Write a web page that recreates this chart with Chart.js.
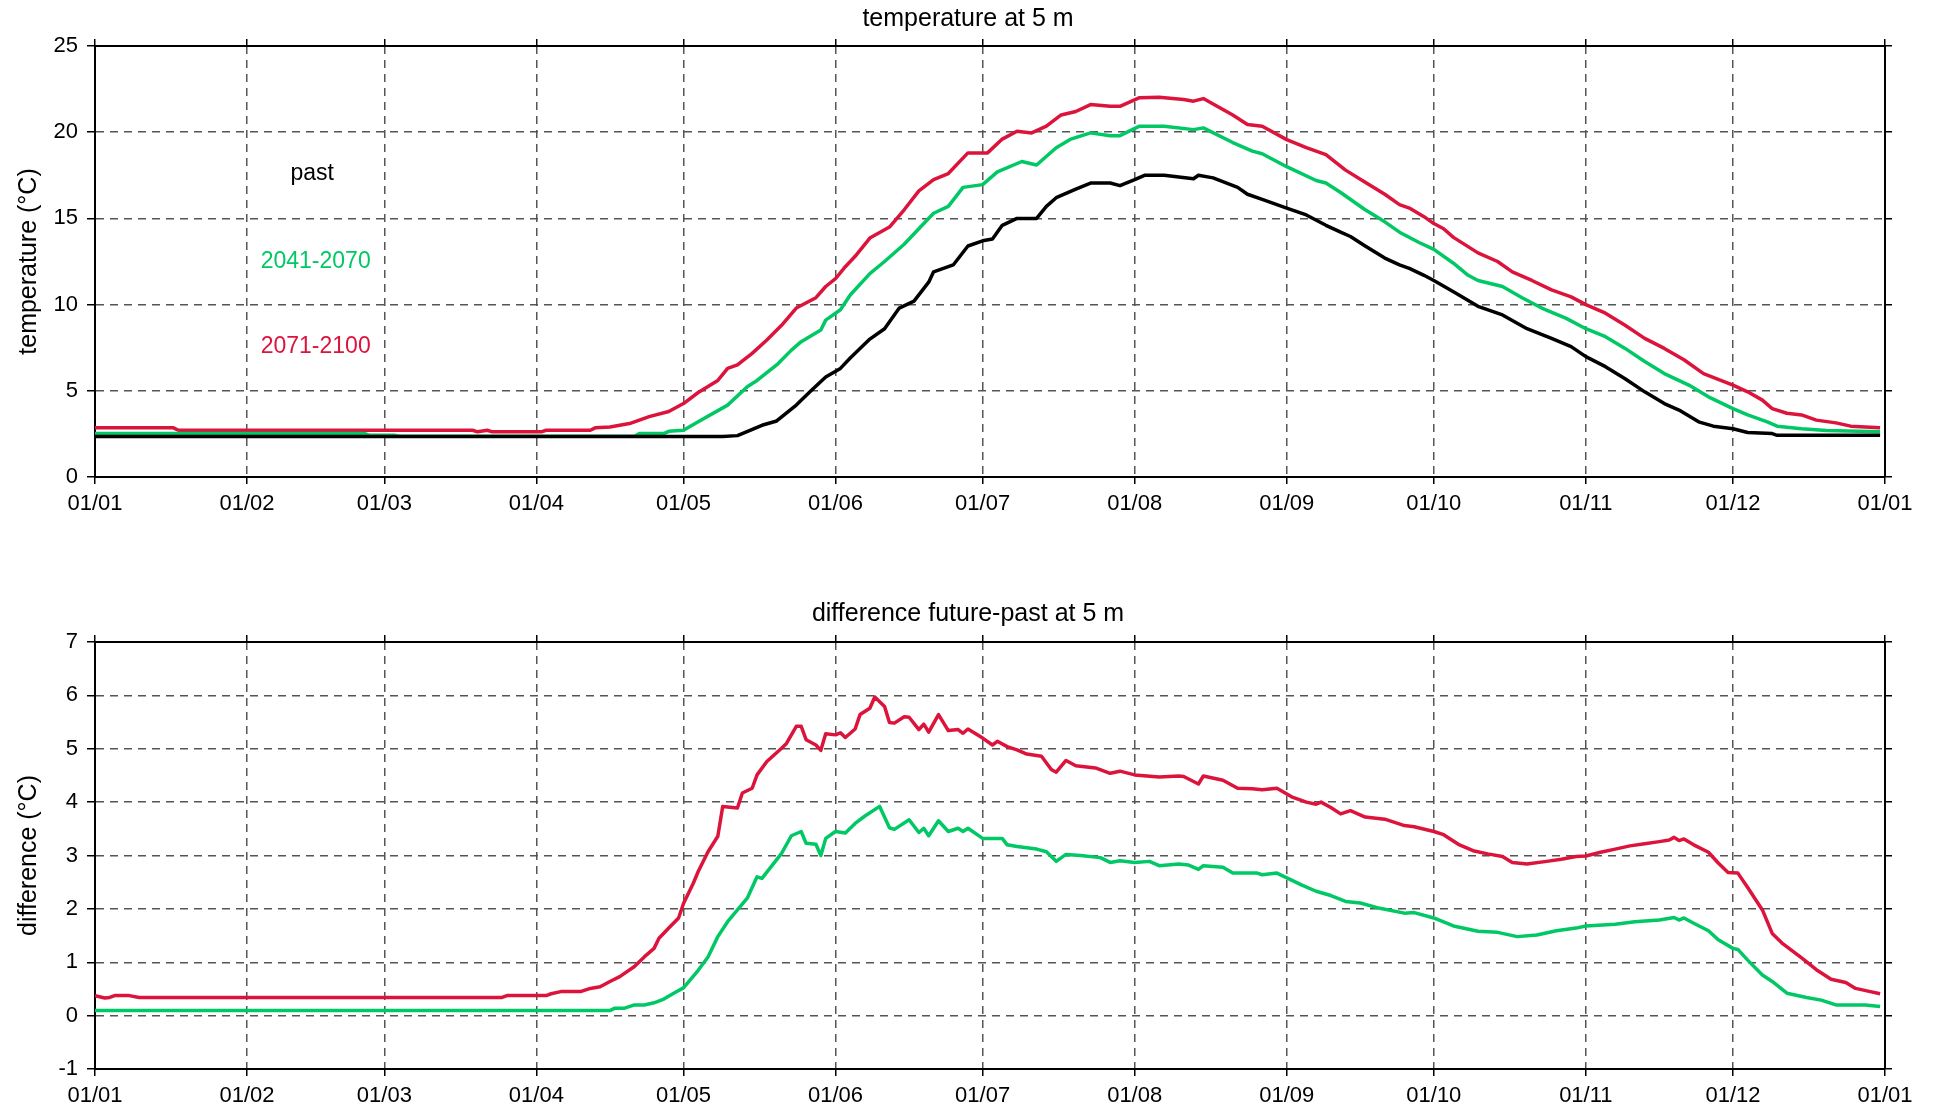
<!DOCTYPE html>
<html lang="en">
<head>
    <meta charset="UTF-8">
    <title>temperature at 5 m</title>
    <script src="https://cdn.jsdelivr.net/npm/chart.js@4.4.1/dist/chart.umd.min.js"></script>
    <style>
        body { margin: 0; background: #fff; }
        #wrap { position: relative; width: 1936px; height: 1114px; }
        canvas { position: absolute; left: 0; }
        #tempChart { top: 0; }
        #diffChart { top: 557px; }
    </style>
</head>
<body>
<div id="wrap">
    <canvas id="tempChart" width="1936" height="557"></canvas>
    <canvas id="diffChart" width="1936" height="557"></canvas>
</div>

<script>
    // month starts (day of year) and their labels
    const monthStarts = [0, 31, 59, 90, 120, 151, 181, 212, 243, 273, 304, 334, 365];
    const monthLabels = ['01/01', '01/02', '01/03', '01/04', '01/05', '01/06', '01/07',
                         '01/08', '01/09', '01/10', '01/11', '01/12', '01/01'];

    // temperature at 5 m, past
    const pastDays = [0,128,131,136,139,143,146,149,152,154,158,161,164,167,170,171,175,178,181,183,185,188,192,194,196,200,203,207,209,212,214,218,224,225,228,233,235,238,243,247,251,254,256,259,263,266,268,271,273,277,282,287,292,297,301,304,308,312,316,320,323,327,330,334,337,342,343,364];
    const pastTemp = [2.35,2.35,2.4,3.0,3.25,4.17,5.0,5.8,6.3,6.9,8.0,8.6,9.8,10.2,11.3,11.9,12.3,13.4,13.7,13.8,14.6,15.0,15.0,15.7,16.2,16.7,17.05,17.05,16.9,17.25,17.5,17.5,17.3,17.5,17.35,16.8,16.4,16.1,15.6,15.2,14.6,14.2,13.95,13.4,12.7,12.3,12.1,11.7,11.4,10.75,9.9,9.4,8.6,8.04,7.56,6.98,6.4,5.7,4.94,4.26,3.88,3.2,2.95,2.8,2.58,2.52,2.42,2.42];

    // temperature at 5 m, 2041-2070
    const midDays = [0,55,56,61,62,110,111,116,117,120,123,129,133,135,139,142,144,148,149,152,154,158,161,165,169,171,174,177,181,184,189,192,196,199,203,207,209,213,218,224,226,232,236,238,243,249,251,254,259,263,266,270,273,277,280,282,287,291,295,300,304,308,312,316,320,325,329,334,337,341,343,348,353,364];
    const midTemp = [2.52,2.52,2.42,2.42,2.36,2.36,2.52,2.52,2.65,2.71,3.2,4.17,5.23,5.6,6.5,7.36,7.85,8.53,9.1,9.7,10.56,11.8,12.5,13.5,14.7,15.3,15.7,16.8,16.96,17.7,18.3,18.1,19.1,19.6,19.96,19.8,19.8,20.35,20.35,20.15,20.25,19.4,18.9,18.75,18.0,17.2,17.05,16.5,15.5,14.8,14.2,13.6,13.2,12.4,11.7,11.4,11.05,10.4,9.8,9.2,8.6,8.14,7.46,6.7,6.0,5.33,4.65,3.97,3.6,3.2,2.95,2.8,2.7,2.62];

    // temperature at 5 m, 2071-2100
    const lateDays = [0,16,17,77,78,80,81,91,92,101,102,105,109,113,117,120,123,127,129,131,134,137,140,143,147,149,151,153,155,158,162,165,168,171,174,178,182,185,188,191,194,197,200,203,207,209,213,217,222,224,226,232,235,238,243,247,251,255,259,263,266,268,271,273,275,277,282,286,289,293,297,301,304,308,312,316,320,324,328,334,337,340,342,345,348,351,355,358,364];
    const lateTemp = [2.85,2.85,2.71,2.71,2.62,2.71,2.62,2.62,2.71,2.71,2.85,2.9,3.1,3.5,3.8,4.26,4.9,5.6,6.3,6.5,7.17,7.95,8.8,9.8,10.4,11.05,11.5,12.2,12.8,13.86,14.5,15.5,16.6,17.25,17.6,18.8,18.8,19.6,20.06,19.96,20.35,21.0,21.2,21.6,21.5,21.5,22.0,22.03,21.9,21.8,21.95,21.0,20.45,20.35,19.57,19.1,18.7,17.8,17.1,16.4,15.8,15.6,15.1,14.7,14.4,13.9,13.0,12.5,11.9,11.4,10.85,10.45,10.0,9.5,8.8,8.04,7.46,6.8,6.0,5.33,4.94,4.46,3.97,3.7,3.6,3.3,3.14,2.95,2.85];

    // difference future-past, 2041-2070
    const midDiffDays = [0,105,106,108,110,112,114,116,118,120,123,125,127,129,131,133,135,136,140,142,144,145,147,148,149,151,153,155,157,160,162,163,166,168,169,170,172,174,176,177,178,181,185,186,188,192,194,196,198,201,205,207,209,212,215,217,221,223,225,226,230,232,237,238,241,244,246,249,252,255,258,262,267,269,273,277,282,286,290,294,298,302,304,310,314,319,322,323,324,326,329,331,334,335,337,340,342,345,349,352,355,361,364];
    const midDiff = [0.094,0.094,0.14,0.14,0.2,0.2,0.24,0.31,0.42,0.52,0.85,1.1,1.48,1.76,1.98,2.2,2.6,2.57,3.04,3.37,3.45,3.23,3.21,3.0,3.32,3.45,3.42,3.6,3.74,3.92,3.52,3.49,3.67,3.43,3.51,3.37,3.65,3.45,3.51,3.45,3.51,3.32,3.32,3.2,3.17,3.12,3.07,2.89,3.02,3.0,2.96,2.87,2.9,2.87,2.89,2.81,2.84,2.82,2.74,2.81,2.78,2.67,2.67,2.64,2.67,2.54,2.45,2.33,2.25,2.14,2.11,2.01,1.92,1.93,1.83,1.68,1.58,1.56,1.48,1.51,1.59,1.64,1.68,1.71,1.76,1.79,1.84,1.79,1.83,1.73,1.59,1.42,1.26,1.24,1.04,0.76,0.64,0.42,0.34,0.29,0.2,0.2,0.17];

    // difference future-past, 2071-2100
    const lateDiffDays = [0,2,3,4,7,9,83,84,92,93,95,99,101,103,105,107,110,112,114,115,117,119,120,122,123,125,127,128,131,132,134,135,137,140,141,143,144,145,147,148,149,151,152,153,155,156,158,159,161,162,163,165,166,168,169,170,172,174,176,177,178,181,183,184,186,188,190,193,195,196,198,200,204,207,209,212,217,221,222,225,226,230,233,236,238,241,244,247,249,250,252,254,256,259,263,267,269,273,275,278,281,284,287,289,292,296,299,302,304,307,310,313,316,319,321,322,323,324,326,329,331,333,335,337,340,342,344,348,351,354,357,359,362,364];
    const lateDiff = [0.375,0.33,0.34,0.375,0.375,0.34,0.34,0.375,0.375,0.41,0.45,0.45,0.51,0.54,0.64,0.73,0.92,1.1,1.26,1.45,1.64,1.83,2.1,2.48,2.7,3.07,3.36,3.92,3.89,4.17,4.26,4.51,4.76,5.01,5.1,5.42,5.42,5.17,5.07,4.97,5.28,5.26,5.3,5.21,5.37,5.64,5.76,5.97,5.79,5.49,5.48,5.6,5.59,5.36,5.46,5.31,5.64,5.34,5.36,5.29,5.37,5.2,5.07,5.14,5.04,4.98,4.9,4.86,4.61,4.56,4.78,4.68,4.64,4.54,4.58,4.51,4.47,4.49,4.48,4.34,4.49,4.41,4.26,4.25,4.23,4.26,4.1,4.0,3.96,4.0,3.9,3.78,3.84,3.72,3.68,3.56,3.54,3.45,3.39,3.21,3.09,3.03,2.98,2.87,2.84,2.89,2.93,2.98,2.99,3.06,3.12,3.18,3.22,3.26,3.29,3.34,3.28,3.31,3.2,3.06,2.86,2.68,2.67,2.4,1.98,1.54,1.36,1.08,0.86,0.68,0.62,0.51,0.45,0.41];

    // series names written inside the upper plot, with the day / value where they sit
    const seriesNames = ['past', '2041-2070', '2071-2100'];
    const nameDays = [44.3, 45, 45];
    const nameTemps = [17.6, 12.5, 7.55];

    const BLACK = '#000000';
    const GREEN = '#00c864';
    const RED = '#dc143c';
    const FONT = 'Arial, "Liberation Sans", sans-serif';

    Chart.defaults.font.family = FONT;
    Chart.defaults.color = '#000';

    function toPoints(days, values) {
        return days.map((d, i) => ({ x: d, y: values[i] }));
    }

    function line(days, values, color) {
        return {
            data: toPoints(days, values),
            borderColor: color,
            borderWidth: 3.5,
            borderJoinStyle: 'round',
            pointRadius: 0,
            tension: 0,
            fill: false
        };
    }

    function monthTicks(scale) {
        scale.ticks = monthStarts.map(v => ({ value: v }));
    }

    function buildOptions(cfg) {
        const gridColor = '#555';
        return {
            responsive: false,
            animation: false,
            layout: { padding: 0 },
            plugins: {
                legend: { display: false },
                tooltip: { enabled: false },
                title: {
                    display: true,
                    text: cfg.title,
                    color: '#000',
                    font: { size: 25, weight: 'normal' },
                    padding: { top: cfg.titleTop, bottom: cfg.titleBottom }
                }
            },
            scales: {
                x: {
                    type: 'linear',
                    position: 'bottom',
                    min: 0,
                    max: 365,
                    afterBuildTicks: monthTicks,
                    afterFit: s => { s.height = cfg.xHeight; },
                    ticks: {
                        autoSkip: false,
                        maxRotation: 0,
                        padding: 7,
                        font: { size: 22 },
                        callback: (v) => monthLabels[monthStarts.indexOf(v)]
                    },
                    grid: { color: gridColor, lineWidth: 1.5, tickLength: 7, tickColor: '#000' },
                    border: { display: true, color: '#000', width: 2, dash: [8, 6] }
                },
                x2: {
                    type: 'linear',
                    position: 'top',
                    min: 0,
                    max: 365,
                    afterBuildTicks: monthTicks,
                    afterFit: s => { s.height = 8; },
                    ticks: { display: false },
                    grid: { drawOnChartArea: false, tickLength: 7, color: '#000', lineWidth: 1.5 },
                    border: { display: true, color: '#000', width: 2 }
                },
                y: {
                    min: cfg.ymin,
                    max: cfg.ymax,
                    afterFit: s => { s.width = 95; },
                    ticks: { stepSize: cfg.step, padding: 9, font: { size: 22 } },
                    title: {
                        display: true,
                        text: cfg.yTitle,
                        color: '#000',
                        font: { size: 25 },
                        padding: { top: 14, bottom: 0 }
                    },
                    grid: { color: gridColor, lineWidth: 1.5, tickLength: 8, tickColor: '#000' },
                    border: { display: true, color: '#000', width: 2, dash: [8, 6] }
                },
                y2: {
                    position: 'right',
                    min: cfg.ymin,
                    max: cfg.ymax,
                    afterFit: s => { s.width = 51; },
                    ticks: { display: false, stepSize: cfg.step },
                    grid: { drawOnChartArea: false, tickLength: 7, color: '#000', lineWidth: 1.5 },
                    border: { display: true, color: '#000', width: 2 }
                }
            }
        };
    }

    // writes the series names at their data positions in the upper plot
    const seriesNamePlugin = {
        id: 'seriesNames',
        afterDatasetsDraw(chart) {
            const ctx = chart.ctx;
            const colors = [BLACK, GREEN, RED];
            ctx.save();
            ctx.font = '23px ' + FONT;
            ctx.textAlign = 'center';
            ctx.textBaseline = 'middle';
            seriesNames.forEach((name, i) => {
                ctx.fillStyle = colors[i];
                ctx.fillText(name, chart.scales.x.getPixelForValue(nameDays[i]),
                             chart.scales.y.getPixelForValue(nameTemps[i]));
            });
            ctx.restore();
        }
    };

    function createCharts() {
        new Chart(document.getElementById('tempChart'), {
            type: 'line',
            data: {
                datasets: [
                    line(pastDays, pastTemp, BLACK),
                    line(midDays, midTemp, GREEN),
                    line(lateDays, lateTemp, RED)
                ]
            },
            options: buildOptions({
                title: 'temperature at 5 m',
                yTitle: 'temperature (°C)',
                ymin: 0, ymax: 25, step: 5,
                titleTop: 4, titleBottom: 4,
                xHeight: 80
            }),
            plugins: [seriesNamePlugin]
        });

        new Chart(document.getElementById('diffChart'), {
            type: 'line',
            data: {
                datasets: [
                    line(midDiffDays, midDiff, GREEN),
                    line(lateDiffDays, lateDiff, RED)
                ]
            },
            options: buildOptions({
                title: 'difference future-past at 5 m',
                yTitle: 'difference (°C)',
                ymin: -1, ymax: 7, step: 1,
                titleTop: 42, titleBottom: 5,
                xHeight: 45
            })
        });
    }

    createCharts();
</script>
</body>
</html>
